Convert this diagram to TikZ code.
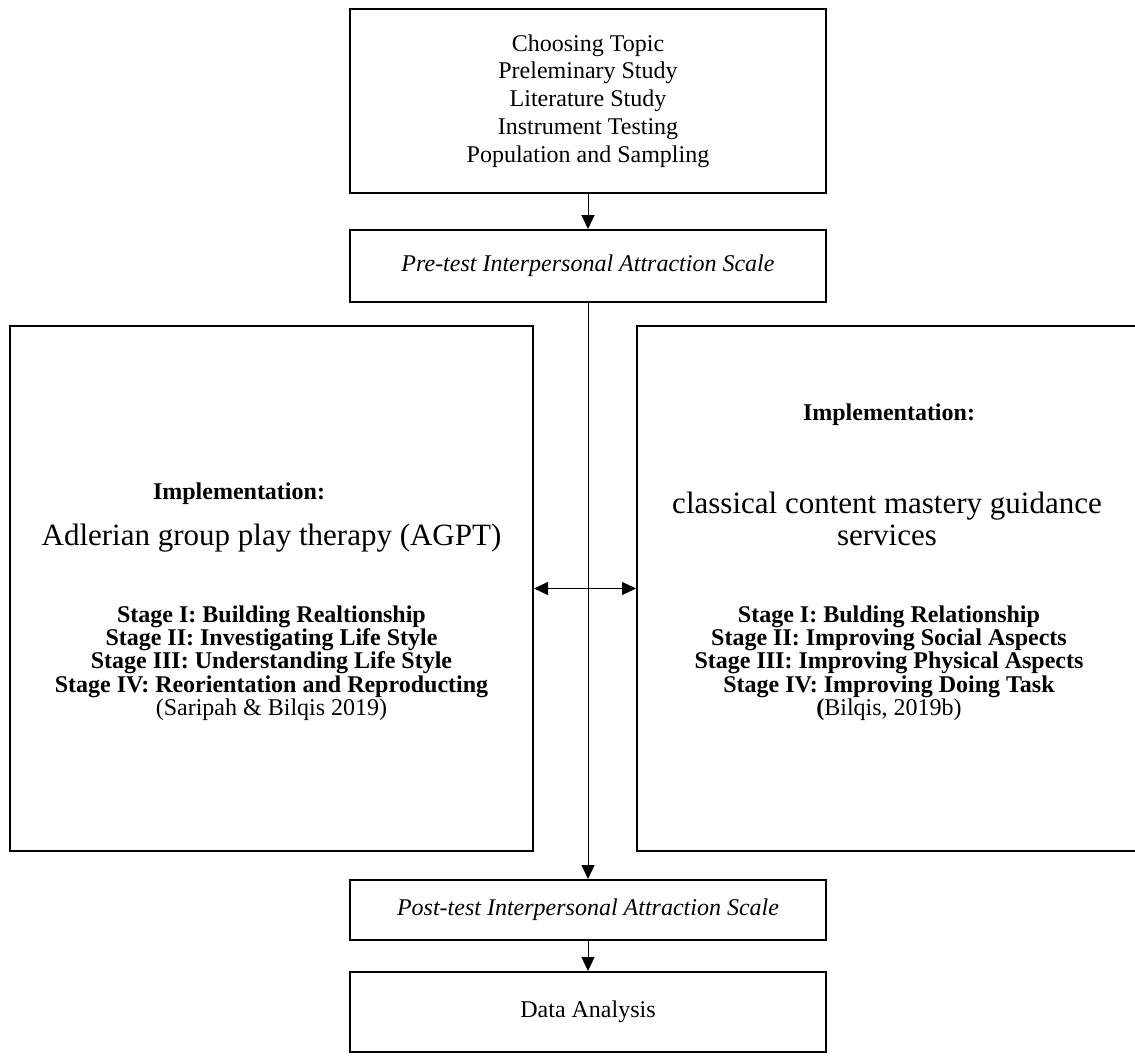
\documentclass[tikz,border=0pt]{standalone}
\usepackage{fontspec}
\setmainfont{Liberation Serif}
\usetikzlibrary{arrows.meta}

\begin{document}
\begin{tikzpicture}[x = {(0.5pt,0pt)},
  y = {(0pt,-0.5pt)},
  box/.style = {draw, line width=1pt, inner sep=0pt, align=center,
    font=\fontsize{12}{13.9}\selectfont},
  big/.style = {inner sep=0pt, align=center,
    font=\fontsize{15.5}{16}\selectfont},
  stages/.style = {inner sep=0pt, align=center,
    font=\fontsize{12}{11.65}\selectfont},
  flow/.style = {line width=0.5pt, >={Triangle[length=7pt,width=6.5pt]}}]

  \def\px{0.5pt}
  \def\cw{476}

  \useasboundingbox (0,0) rectangle (1135,1055);

  % middle column
  \node[box, minimum width=\cw*\px, minimum height=184*\px] (topic) at (588,101)
  {Choosing Topic\\Preleminary Study\\Literature Study\\Instrument Testing\\Population and Sampling};
  \node[box, minimum width=\cw*\px, minimum height=72*\px] (pretest) at (588,266)
  {\itshape Pre-test Interpersonal Attraction Scale};
  \node[box, minimum width=\cw*\px, minimum height=60*\px] (posttest) at (588,910)
  {\itshape Post-test Interpersonal Attraction Scale};
  \node[box, minimum width=\cw*\px, minimum height=80*\px] (analysis) at (588,1012)
  {Data Analysis};

  % implementation boxes
  \node[box, minimum width=523*\px, minimum height=525*\px] (agpt) at (271.5,588.5) {};
  \node[box, minimum width=501*\px, minimum height=525*\px] (ccmg) at (887.5,588.5) {};

  % left texts
  \node[stages, font=\fontsize{12}{13.9}\bfseries] (agpthead) at (239,494) {Implementation:};
  \node[big] (agpttitle) at (271.5,538) {Adlerian group play therapy (AGPT)};
  \node[stages] (agptsteps) at (271.5,663)
  {\textbf{Stage I: Building Realtionship}\\
   \textbf{Stage II: Investigating Life Style}\\
   \textbf{Stage III: Understanding Life Style}\\
   \textbf{Stage IV: Reorientation and Reproducting}\\
   (Saripah \& Bilqis 2019)};

  % right texts
  \node[stages, font=\fontsize{12}{13.9}\bfseries] (ccmghead) at (889,415) {Implementation:};
  \node[big] (ccmgtitle) at (887,519) {classical content mastery guidance\\services};
  \node[stages] (ccmgsteps) at (889,663)
  {\textbf{Stage I: Bulding Relationship}\\
   \textbf{Stage II: Improving Social Aspects}\\
   \textbf{Stage III: Improving Physical Aspects}\\
   \textbf{Stage IV: Improving Doing Task}\\
   \textbf{(}Bilqis, 2019b)};

  % arrows
  \draw[flow, ->] (topic) -- (pretest);
  \draw[flow, ->] (pretest) -- (posttest);
  \draw[flow, ->] (posttest) -- (analysis);
  \draw[flow, <->] (agpt.east) -- (ccmg.west);
\end{tikzpicture}
\end{document}
